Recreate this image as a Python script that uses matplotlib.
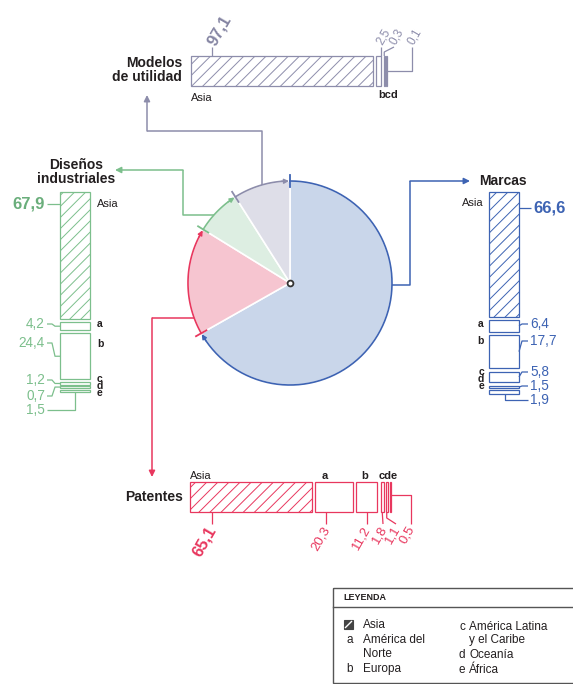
import numpy as np
import matplotlib.pyplot as plt
from matplotlib.patches import Wedge, Rectangle

plt.rcParams['font.family'] = ['Liberation Sans', 'DejaVu Sans']
plt.rcParams['hatch.linewidth'] = 0.7

# pie: share of each IP type (%)
pie_names = ['Marcas', 'Patentes', 'Diseños industriales', 'Modelos de utilidad']
pie_shares = [66.8, 17.0, 7.2, 9.0]

# regional split (%) : Asia, a, b, c, d, e
regions = ['Asia', 'a', 'b', 'c', 'd', 'e']
marcas = [66.6, 6.4, 17.7, 5.8, 1.5, 1.9]
patentes = [65.1, 20.3, 11.2, 1.8, 1.1, 0.5]
disenos = [67.9, 4.2, 24.4, 1.2, 0.7, 1.5]
modelos_regions = ['Asia', 'b', 'c', 'd']
modelos = [97.1, 2.5, 0.3, 0.1]

legend_left = [('a', 'América del\nNorte'), ('b', 'Europa')]
legend_right = [('c', 'América Latina\ny el Caribe'), ('d', 'Oceanía'), ('e', 'África')]

BLUE, BLUE_FILL = '#3d63b3', '#c9d6ea'
PINK, PINK_FILL = '#e8375e', '#f6c5d0'
GREEN, GREEN_FILL = '#7cbf8c', '#ddeee2'
GRAY, GRAY_FILL = '#8d8dab', '#dedee8'
DARK = '#231f20'

W, H = 573, 684
fig = plt.figure(figsize=(W / 100, H / 100), dpi=100)
ax = fig.add_axes([0, 0, 1, 1])
ax.set_xlim(0, W)
ax.set_ylim(H, 0)
ax.axis('off')

SCALE = 1.87   # px per percent
LW = 0.9


def segments(vals, start):
    out = []
    pos = start
    for v in vals:
        L = max(v * SCALE, 0.8)
        out.append((pos, pos + L))
        pos += L + (3.3 if v >= 2 else 1.8)
    return out


def line(pts, color, lw=LW):
    xs, ys = zip(*pts)
    ax.plot(xs, ys, color=color, lw=lw, solid_capstyle='butt')


def arrow(pts, color):
    line(pts[:-1], color, lw=1.1)
    ax.annotate('', xy=pts[-1], xytext=pts[-2],
                arrowprops=dict(arrowstyle='-|>', color=color, lw=1.1,
                                mutation_scale=9, shrinkA=0, shrinkB=0))


# ---- pie ----
cx, cy, R = 290, 283, 102
fills = [BLUE_FILL, PINK_FILL, GREEN_FILL, GRAY_FILL]
edges = [BLUE, PINK, GREEN, GRAY]
start = -90
bounds = []
for share, fc in zip(pie_shares, fills):
    ext = share / sum(pie_shares) * 360
    ax.add_patch(Wedge((cx, cy), R, start, start + ext, facecolor=fc,
                       edgecolor='white', lw=1.2))
    bounds.append((start, start + ext))
    start += ext

for (t0, t1), ec in zip(bounds, edges):
    t = np.radians(np.linspace(t0, t1 - 2, 80))
    ax.plot(cx + R * np.cos(t), cy + R * np.sin(t), color=ec, lw=1.2)
    a, b = np.radians(t1 - 5), np.radians(t1 - 0.6)
    ax.annotate('', xy=(cx + R * np.cos(b), cy + R * np.sin(b)),
                xytext=(cx + R * np.cos(a), cy + R * np.sin(a)),
                arrowprops=dict(arrowstyle='-|>', color=ec, lw=1.0,
                                mutation_scale=7, shrinkA=0, shrinkB=0))
    r0 = np.radians(t0)
    ax.plot([cx + (R - 6) * np.cos(r0), cx + (R + 6) * np.cos(r0)],
            [cy + (R - 6) * np.sin(r0), cy + (R + 6) * np.sin(r0)],
            color=ec, lw=1.3)

ax.plot(cx, cy, 'o', ms=4.2, mfc='white', mec='#333333', mew=1.3)


def arc_x(y, side):
    return cx + side * np.sqrt(R ** 2 - (y - cy) ** 2)


# connectors
gm = np.radians(np.mean(bounds[3]))
gx = cx + R * np.cos(gm)
arrow([(gx, cy + R * np.sin(gm)), (gx, 131), (147, 131), (147, 95)], GRAY)
arrow([(arc_x(215, -1), 215), (183, 215), (183, 170), (115, 170)], GREEN)
arrow([(arc_x(318, -1), 318), (152, 318), (152, 477)], PINK)
arrow([(arc_x(285, 1), 285), (410, 285), (410, 181), (470, 181)], BLUE)


def vbars(vals, x0, x1, top, color):
    segs = segments(vals, top)
    for i, (s0, s1) in enumerate(segs):
        ax.bar((x0 + x1) / 2, s1 - s0, bottom=s0, width=x1 - x0,
               facecolor='white', edgecolor=color, lw=LW,
               hatch='///' if i == 0 else None)
    return segs


def hbars(vals, left, y0, y1, color):
    segs = segments(vals, left)
    for i, (s0, s1) in enumerate(segs):
        ax.barh((y0 + y1) / 2, s1 - s0, left=s0, height=y1 - y0,
                facecolor='white', edgecolor=color, lw=LW,
                hatch='///' if i == 0 else None)
    return segs


def fmt(v):
    return f'{v:.1f}'.replace('.', ',')


LET = 7.5  # font size of the small region letters

# ---- Marcas ----
segs = vbars(marcas, 489, 519, 192, BLUE)
ax.text(503, 181, 'Marcas', fontsize=10, fontweight='bold', color=DARK,
        ha='center', va='center')
ax.text(484, 203, 'Asia', fontsize=8, color=DARK, ha='right', va='center')
lab_y = [208, 324, 341, 372, 386, 400]
for i, (v, (s0, s1)) in enumerate(zip(marcas, segs)):
    mid = (s0 + s1) / 2
    if i == 5:
        line([(505, s1), (505, lab_y[i]), (528, lab_y[i])], BLUE)
    elif i == 0:
        line([(519, lab_y[i]), (531, lab_y[i])], BLUE)
    else:
        line([(519, mid), (522, lab_y[i]), (528, lab_y[i])], BLUE)
    ax.text(533 if i == 0 else 530, lab_y[i], fmt(v), color=BLUE,
            fontsize=12 if i == 0 else 9.8,
            fontweight='bold' if i == 0 else 'normal', ha='left', va='center')
ax.text(484, 324, regions[1], fontsize=LET, fontweight='bold', color=DARK,
        ha='right', va='center')
ax.text(484, 341, regions[2], fontsize=LET, fontweight='bold', color=DARK,
        ha='right', va='center')
ax.text(484, 379, '\n'.join(regions[3:]), fontsize=LET, fontweight='bold',
        color=DARK, ha='right', va='center', linespacing=0.68)

# ---- Diseños industriales ----
segs = vbars(disenos, 60, 90, 192, GREEN)
ax.text(76, 172, 'Diseños\nindustriales', fontsize=10, fontweight='bold',
        color=DARK, ha='center', va='center', linespacing=1.05)
ax.text(97, 204, 'Asia', fontsize=8, color=DARK, ha='left', va='center')
lab_y = [204, 324, 343, 380, 396, 410]
for i, (v, (s0, s1)) in enumerate(zip(disenos, segs)):
    mid = (s0 + s1) / 2
    if i == 5:
        line([(75, s1), (75, lab_y[i]), (47, lab_y[i])], GREEN)
    elif i == 0:
        line([(60, lab_y[i]), (47, lab_y[i])], GREEN)
    else:
        line([(60, mid), (55, mid), (52, lab_y[i]), (47, lab_y[i])], GREEN)
    ax.text(45, lab_y[i], fmt(v), color='#6aae7b' if i == 0 else GREEN,
            fontsize=12 if i == 0 else 9.8,
            fontweight='bold' if i == 0 else 'normal', ha='right', va='center')
ax.text(97, 324, regions[1], fontsize=LET, fontweight='bold', color=DARK,
        ha='left', va='center')
ax.text(97, 344, regions[2], fontsize=LET, fontweight='bold', color=DARK,
        ha='left', va='center')
ax.text(97, 386, '\n'.join(regions[3:]), fontsize=LET, fontweight='bold',
        color=DARK, ha='left', va='center', linespacing=0.68)

# ---- Patentes ----
segs = hbars(patentes, 190, 482, 512, PINK)
ax.text(183, 497, 'Patentes', fontsize=10, fontweight='bold', color=DARK,
        ha='right', va='center')
ax.text(190, 476, 'Asia', fontsize=8, color=DARK, ha='left', va='center')
ax.text(325, 476, 'a', fontsize=8, fontweight='bold', color=DARK,
        ha='center', va='center')
ax.text(365, 476, 'b', fontsize=8, fontweight='bold', color=DARK,
        ha='center', va='center')
ax.text(388, 476, 'cde', fontsize=8, fontweight='bold', color=DARK,
        ha='center', va='center')
lab_x = [212, 326, 367, 383, 396, 411]
for i, (v, (s0, s1)) in enumerate(zip(patentes, segs)):
    mid = (s0 + s1) / 2
    if i == 5:
        line([(s1, 495), (lab_x[i], 495), (lab_x[i], 524)], PINK)
    elif i == 4:
        line([(mid, 512), (mid, 518), (lab_x[i], 524)], PINK)
    elif i == 3:
        line([(mid, 512), (lab_x[i], 524)], PINK)
    else:
        line([(lab_x[i], 512), (lab_x[i], 524)], PINK)
    ax.text(lab_x[i] + 1, 527, fmt(v), color=PINK,
            fontsize=12 if i == 0 else 9.5,
            fontweight='bold' if i == 0 else 'normal',
            rotation=60, rotation_mode='anchor', ha='right', va='center')

# ---- Modelos de utilidad ----
segs = hbars(modelos, 191, 56, 86, GRAY)
ax.text(182, 70, 'Modelos\nde utilidad', fontsize=10, fontweight='bold',
        color=DARK, ha='right', va='center', linespacing=1.05)
ax.text(191, 98, 'Asia', fontsize=8, color=DARK, ha='left', va='center')
ax.text(388, 95, 'bcd', fontsize=8, fontweight='bold', color=DARK,
        ha='center', va='center')
lab_x = [212, 381, 394, 412]
for i, (v, (s0, s1)) in enumerate(zip(modelos, segs)):
    mid = (s0 + s1) / 2
    if i == 3:
        line([(s1, 71), (lab_x[i], 71), (lab_x[i], 47)], GRAY)
    elif i == 2:
        line([(mid, 56), (mid, 52), (lab_x[i], 47)], GRAY)
    else:
        line([(lab_x[i], 56), (lab_x[i], 47)], GRAY)
    ax.text(lab_x[i] - 1, 44, fmt(v), color='#8585a3' if i == 0 else GRAY,
            fontsize=12 if i == 0 else 8.5,
            fontweight='bold' if i == 0 else 'normal',
            rotation=60, rotation_mode='anchor', ha='left', va='center')

# ---- legend box ----
ax.add_patch(Rectangle((333, 588), 250, 95, fill=False, edgecolor='#555555', lw=1.0))
ax.plot([333, 573], [607, 607], color='#555555', lw=1.0)
ax.text(343, 598, 'LEYENDA', fontsize=6.5, fontweight='bold', color=DARK,
        va='center', ha='left')
ax.add_patch(Rectangle((344, 620), 9, 9, facecolor='#444444', edgecolor='#444444', lw=0.8))
ax.plot([345.5, 351.5], [627.5, 621.5], color='white', lw=1.0)
ax.text(363, 625, 'Asia', fontsize=8.5, color=DARK, ha='left', va='center')


def legend_item(x_letter, x_text, y, letter, name, step):
    ax.text(x_letter, y, letter, fontsize=8.5, color=DARK, ha='center', va='center')
    for k, part in enumerate(name.split('\n')):
        ax.text(x_text, y + step * k, part, fontsize=8.5, color=DARK,
                ha='left', va='center')


for (letter, name), y in zip(legend_left, [640, 669]):
    legend_item(350, 363, y, letter, name, 14)
for (letter, name), y in zip(legend_right, [627, 655, 670]):
    legend_item(462, 469, y, letter, name, 13)

fig.savefig('out.png', dpi=100)
